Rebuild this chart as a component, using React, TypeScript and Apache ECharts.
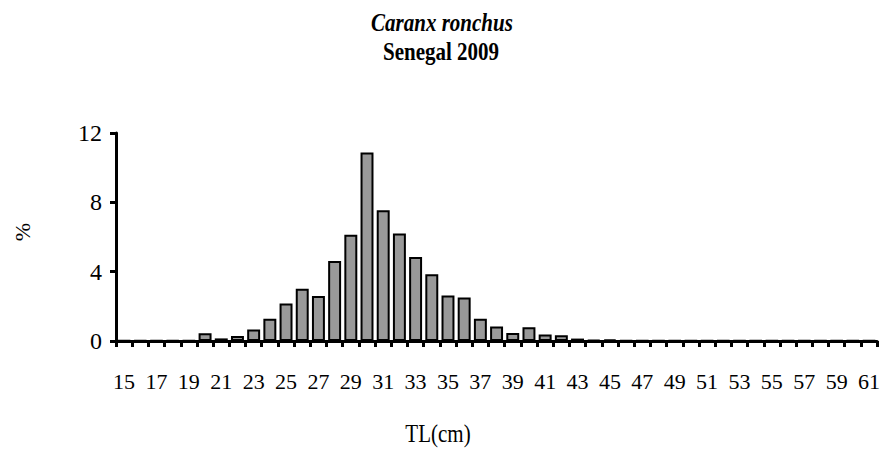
import React, { useEffect, useRef } from "react";
import * as echarts from "echarts";

const categories: string[] = [];
for (let c = 15; c <= 61; c++) categories.push(String(c));

const percentValues = [
  0.02, 0.03, 0.02, 0.03, 0.02, 0.44, 0.15, 0.29, 0.66, 1.28,
  2.16, 3.01, 2.59, 4.62, 6.13, 10.88, 7.54, 6.2, 4.85, 3.85,
  2.63, 2.51, 1.28, 0.83, 0.46, 0.79, 0.37, 0.33, 0.14, 0.05,
  0.08, 0.03, 0.02, 0.02, 0.02, 0.02, 0.02, 0.02, 0.02, 0.02,
  0.02, 0.02, 0.02, 0.02, 0.02, 0.02, 0.02,
];

const titleMain = "Caranx ronchus";
const titleSub = "Senegal 2009";
const xName = "TL(cm)";
const yName = "%";

const FONT = "Liberation Serif";

export default function App() {
  const ref = useRef<HTMLDivElement>(null);
  useEffect(() => {
    if (!ref.current) return;
    const chart = echarts.init(ref.current, undefined, { renderer: "svg" });
    chart.setOption({
      animation: false,
      backgroundColor: "#ffffff",
      textStyle: { fontFamily: FONT },
      graphic: [
        {
          type: "text",
          x: 442,
          y: 22,
          scaleY: 1.2,
          style: { text: titleMain, fontFamily: FONT, fontStyle: "italic", fontWeight: "bold", fontSize: 21, fill: "#000", textAlign: "center", textVerticalAlign: "middle" },
        },
        {
          type: "text",
          x: 441,
          y: 51,
          scaleY: 1.2,
          style: { text: titleSub, fontFamily: FONT, fontWeight: "bold", fontSize: 21, fill: "#000", textAlign: "center", textVerticalAlign: "middle" },
        },
        {
          type: "text",
          x: 22,
          y: 232,
          rotation: Math.PI / 2,
          style: { text: yName, fontFamily: FONT, fontSize: 22, fill: "#000", textAlign: "center", textVerticalAlign: "middle" },
        },
        {
          type: "text",
          x: 438,
          y: 433,
          scaleY: 1.2,
          style: { text: xName, fontFamily: FONT, fontSize: 21, fill: "#000", textAlign: "center", textVerticalAlign: "middle" },
        },
      ],
      grid: { left: 116, right: 2, top: 133, bottom: 120, containLabel: false },
      xAxis: {
        type: "category",
        data: categories,
        boundaryGap: true,
        axisLine: { lineStyle: { color: "#000", width: 3 } },
        axisTick: { show: true, interval: 0, alignWithLabel: false, length: 6, lineStyle: { color: "#000", width: 3 } },
        axisLabel: { interval: 1, fontFamily: FONT, fontSize: 22, color: "#000", margin: 29 },
        splitLine: { show: false },
      },
      yAxis: {
        type: "value",
        min: 0,
        max: 12,
        interval: 4,
        axisLine: { show: true, lineStyle: { color: "#000", width: 3 } },
        axisTick: { show: true, length: 6, lineStyle: { color: "#000", width: 3 } },
        axisLabel: { fontFamily: FONT, fontSize: 24, color: "#000", margin: 14 },
        splitLine: { show: false },
      },
      series: [
        {
          type: "bar",
          data: percentValues,
          barCategoryGap: "20%",
          itemStyle: { color: "#999999", borderColor: "#000", borderWidth: 2 },
        },
      ],
    });
    return () => chart.dispose();
  }, []);
  return <div ref={ref} style={{ width: 883, height: 461, position: "absolute", left: 0, top: 0 }} />;
}
